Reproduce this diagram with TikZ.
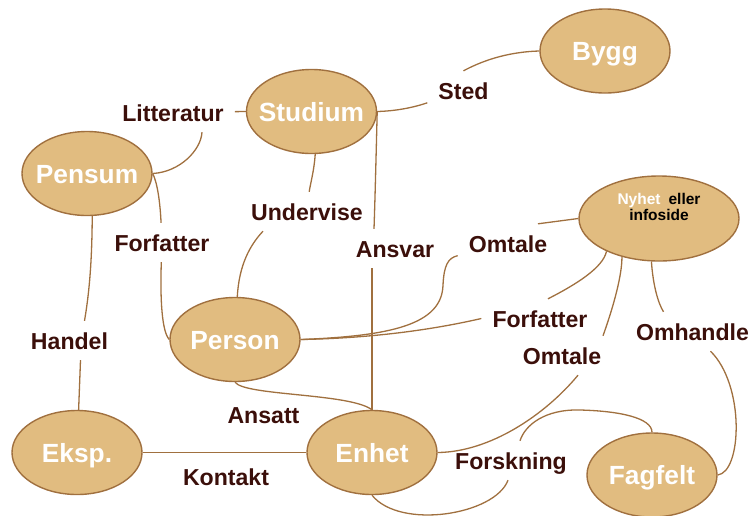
\documentclass[tikz,border=0pt]{standalone}
\usepackage{fontspec}
\setmainfont{Liberation Sans}
\usetikzlibrary{shapes.geometric}
\definecolor{entfill}{HTML}{E1BC80}
\definecolor{entline}{HTML}{A0703F}
\definecolor{lblcol}{HTML}{3B0F0A}
\newcommand\ctr[1]{\makebox[0pt]{#1}}
\begin{document}
\begin{tikzpicture}[x=1pt,y=-1pt,
  ent/.style={ellipse, draw=entline, fill=entfill, line width=1.4pt,
    minimum width=130pt, minimum height=84pt, inner sep=0pt, text=white,
    font=\fontsize{26.3}{28}\selectfont\bfseries, text height=19pt, text depth=0pt},
  rel/.style={anchor=base, text=lblcol, font=\fontsize{23.1}{24}\selectfont\bfseries,
    text height=17pt, text depth=0pt, inner xsep=11pt, inner ysep=11pt},
  conn/.style={draw=entline, line width=1.3pt}]
\useasboundingbox (0,0) rectangle (755,515);
% entities
\node[ent] (bygg) at (605,51) {\ctr{Bygg}};
\node[ent] (studium) at (311.5,111.5) {\ctr{Studium}};
\node[ent] (pensum) at (87,173.5) {\ctr{Pensum}};
\node[ent] (person) at (235,339.5) {\ctr{Person}};
\node[ent] (eksp) at (77,452.5) {\ctr{Eksp.}};
\node[ent] (enhet) at (372,452.5) {\ctr{Enhet}};
\node[ent] (fagfelt) at (652,475) {\ctr{Fagfelt}};
\node[ent, minimum width=160pt, minimum height=85pt] (nyhet) at (659,218.5)
  {\ctr{\raisebox{8pt}{\parbox[b]{120pt}{\centering\fontsize{15.5}{14}\selectfont
   Nyhet\hspace{8pt}{\color{black}eller}\\{\color{black}infoside}}}}};
% relation labels
\node[rel] (sted) at (463.5,99) {Sted};
\node[rel] (litt) at (173,121) {Litteratur};
\node[rel] (forfL) at (162,251) {Forfatter};
\node[rel] (handel) at (69.5,349) {Handel};
\node[rel] (underv) at (307,220) {Undervise};
\node[rel] (ansvar) at (395,257) {Ansvar};
\node[rel] (omtU) at (508,252) {Omtale};
\node[rel] (forfR) at (540,327) {Forfatter};
\node[rel] (omtL) at (562,364) {Omtale};
\node[rel] (omh) at (692.5,340) {Omhandle};
\node[rel] (ansatt) at (263.5,423) {Ansatt};
\node[rel] (kontakt) at (226,485) {Kontakt};
\node[rel] (forsk) at (511,469) {Forskning};
% connectors
\draw[conn] (studium.east) .. controls (395,111) and (412,108) .. (sted);
\draw[conn] (sted.north) .. controls (480,62) and (505,52) .. (bygg.west);
\draw[conn] (studium.west) -- (litt);
\draw[conn] ([xshift=29pt]litt.south) .. controls (201,150) and (180,172) .. (pensum.east);
\draw[conn] (pensum.east) .. controls (157,182) and (160,200) .. (forfL);
\draw[conn] (forfL) .. controls (160,300) and (162,332) .. (person.west);
\draw[conn] (pensum.-83) .. controls (92,270) and (88,300) .. ([xshift=15pt]handel.north);
\draw[conn] ([xshift=11pt]handel.south) -- (eksp);
\draw[conn] (studium.-85) .. controls (314,172) and (310,185) .. (underv);
\draw[conn] ([xshift=-44pt]underv.south) .. controls (250,245) and (239,265) .. (person);
\draw[conn] (studium.east) .. controls (376,160) and (375,200) .. ([xshift=-21pt]ansvar.north);
\draw[conn] ([xshift=-23pt]ansvar.south) -- (enhet.north);
\draw[conn] (person.east) .. controls (390,336) and (442,325) .. (443,285)
  .. controls (444,265) and (448,258) .. (omtU);
\draw[conn] ([xshift=30pt]omtU.north) -- (nyhet.west);
\draw[conn] (person.east) .. controls (380,338) and (440,328) .. (forfR.west);
\draw[conn] ([xshift=8pt]forfR.north) .. controls (575,285) and (603,268) .. (nyhet.212);
\draw[conn] (enhet.east) .. controls (490,452) and (545,415) .. ([xshift=16pt]omtL.south);
\draw[conn] ([xshift=41pt]omtL.north) .. controls (614,305) and (622,275) .. (nyhet.226);
\draw[conn] (nyhet.260) .. controls (653,285) and (658,303) .. ([xshift=-29pt]omh.north);
\draw[conn] ([xshift=18pt]omh.south) .. controls (745,385) and (742,472) .. (fagfelt.east);
\draw[conn] (fagfelt.north) .. controls (652,418) and (620,411) .. (580,410)
  .. controls (545,409) and (525,425) .. ([xshift=9pt]forsk.north);
\draw[conn] ([xshift=-3pt]forsk.south) .. controls (495,515) and (400,530) .. (enhet.south);
\draw[conn] (person.south) .. controls (245,396) and (350,393) .. (enhet.north);
\draw[conn] (eksp.east) -- (enhet.west);
\end{tikzpicture}
\end{document}
